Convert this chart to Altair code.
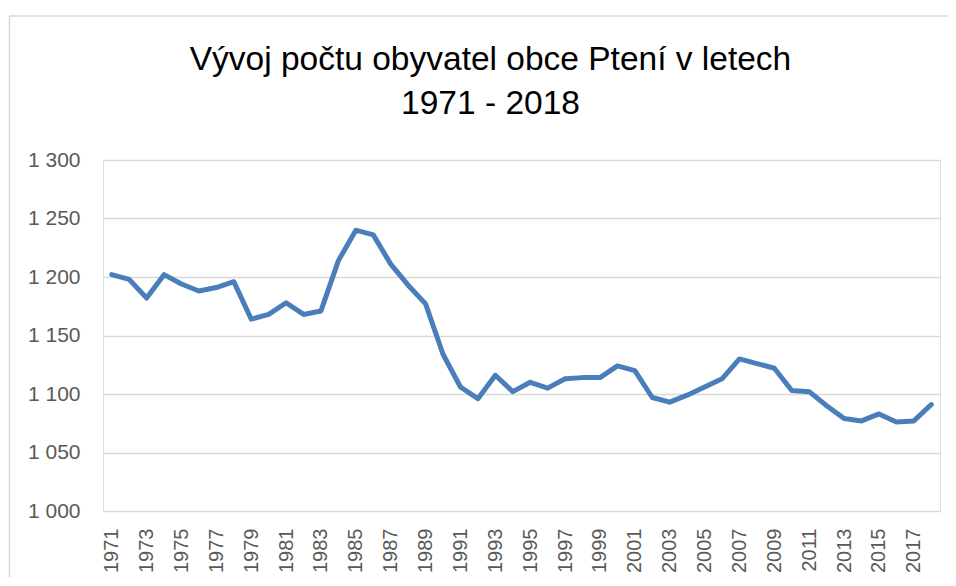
import altair as alt
import pandas as pd

years = list(range(1971, 2019))
population = [1202, 1198, 1182, 1202, 1194, 1188, 1191, 1196, 1164, 1168,
              1178, 1168, 1171, 1214, 1240, 1236, 1211, 1193, 1177, 1134,
              1106, 1096, 1116, 1102, 1110, 1105, 1113, 1114, 1114, 1124,
              1120, 1097, 1093, 1099, 1106, 1113, 1130, 1126, 1122, 1103,
              1102, 1090, 1079, 1077, 1083, 1076, 1077, 1091]
title_lines = ["Vývoj počtu obyvatel obce Ptení v letech", "1971 - 2018"]
y_ticks = [1000, 1050, 1100, 1150, 1200, 1250, 1300]
x_ticks = list(range(1971, 2018, 2))

df = pd.DataFrame({"rok": years, "obyvatel": population})

FONT = "Liberation Sans"
W, H = 837, 351
one = pd.DataFrame({"a": [0]})

border_top = alt.Chart(one).mark_rule(
    color="#d9d9d9", strokeWidth=1.5, clip=False
).encode(x=alt.value(-93.5), x2=alt.value(W + 20), y=alt.value(-144))

border_left = alt.Chart(one).mark_rule(
    color="#d9d9d9", strokeWidth=1.5, clip=False
).encode(x=alt.value(-93.5), y=alt.value(-144), y2=alt.value(H + 120))

line = alt.Chart(df).mark_line(
    color="#4a7ebb", strokeWidth=5, strokeJoin="round", strokeCap="round"
).encode(
    x=alt.X("rok:Q",
            scale=alt.Scale(domain=[1970.5, 2018.5], nice=False, zero=False),
            axis=alt.Axis(values=x_ticks, format="d", labelAngle=-90,
                          labelAlign="right", labelBaseline="middle",
                          labelPadding=17, ticks=False, domain=False,
                          grid=False, title=None, labelFont=FONT,
                          labelFontSize=20, labelColor="#595959",
                          labelOverlap=False, labelFlush=False)),
    y=alt.Y("obyvatel:Q",
            scale=alt.Scale(domain=[1000, 1300], nice=False, zero=False),
            axis=alt.Axis(values=y_ticks,
                          labelExpr="replace(format(datum.value, ','), ',', ' ')",
                          ticks=False, domain=False, grid=True,
                          gridColor="#d9d9d9", gridWidth=1.5,
                          labelPadding=23, title=None, labelFont=FONT,
                          labelFontSize=21, labelColor="#595959")),
)

chart = alt.layer(border_top, border_left, line).properties(
    width=W, height=H,
    title=alt.TitleParams(text=title_lines, font=FONT, fontSize=33.5,
                          fontWeight="normal", color="#000000",
                          lineHeight=44, anchor="middle", frame="group",
                          dx=-31, dy=106, offset=0),
    autosize=alt.AutoSizeParams(type="none"),
    padding={"left": 95, "top": 152, "right": 8, "bottom": 66},
).configure_view(strokeWidth=0, stroke="transparent").configure(background="white")

chart.save("out.html", embed_options={"renderer": "svg", "actions": False})
